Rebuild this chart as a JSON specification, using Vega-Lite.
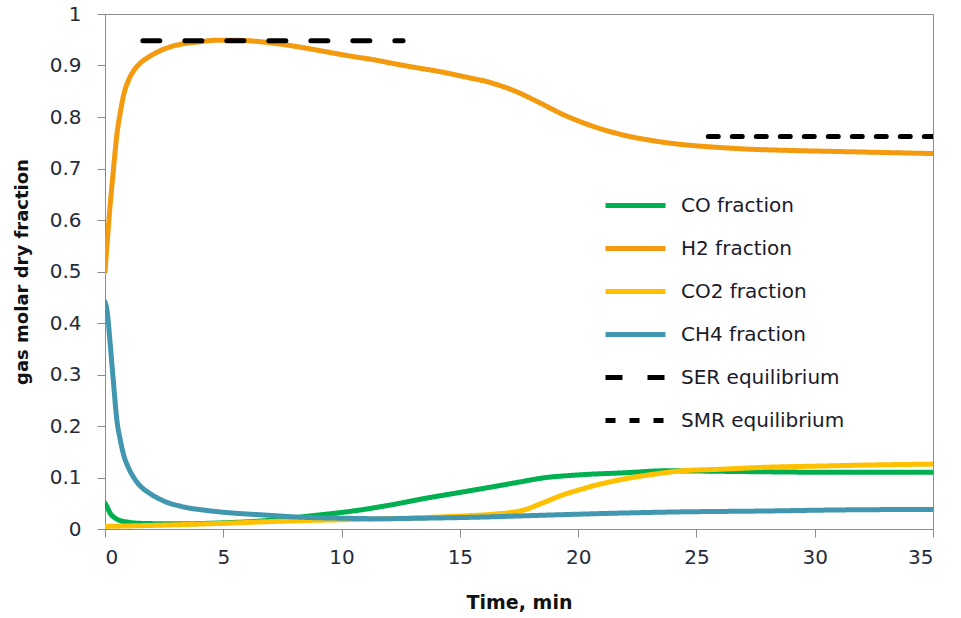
{
  "$schema": "https://vega.github.io/schema/vega-lite/v6.json",
  "width": 828,
  "height": 515,
  "autosize": {"type": "none"},
  "padding": {"left": 105, "top": 14, "right": 28, "bottom": 89},
  "background": "white",
  "config": {
    "view": {"stroke": "#8c8c8c", "strokeWidth": 1},
    "font": "DejaVu Sans"
  },
  "data": {"values": [
    {"t": 0, "v": 0.05, "s": "CO fraction"},
    {"t": 0.1, "v": 0.042, "s": "CO fraction"},
    {"t": 0.2, "v": 0.032, "s": "CO fraction"},
    {"t": 0.4, "v": 0.022, "s": "CO fraction"},
    {"t": 0.6, "v": 0.017, "s": "CO fraction"},
    {"t": 1.0, "v": 0.013, "s": "CO fraction"},
    {"t": 1.5, "v": 0.011, "s": "CO fraction"},
    {"t": 3, "v": 0.01, "s": "CO fraction"},
    {"t": 5, "v": 0.012, "s": "CO fraction"},
    {"t": 7, "v": 0.017, "s": "CO fraction"},
    {"t": 8.8, "v": 0.026, "s": "CO fraction"},
    {"t": 10.5, "v": 0.035, "s": "CO fraction"},
    {"t": 12, "v": 0.046, "s": "CO fraction"},
    {"t": 13.6, "v": 0.06, "s": "CO fraction"},
    {"t": 15, "v": 0.071, "s": "CO fraction"},
    {"t": 16.4, "v": 0.082, "s": "CO fraction"},
    {"t": 17.5, "v": 0.091, "s": "CO fraction"},
    {"t": 18.5, "v": 0.099, "s": "CO fraction"},
    {"t": 20, "v": 0.105, "s": "CO fraction"},
    {"t": 21.9, "v": 0.109, "s": "CO fraction"},
    {"t": 23.7, "v": 0.113, "s": "CO fraction"},
    {"t": 26, "v": 0.112, "s": "CO fraction"},
    {"t": 28, "v": 0.111, "s": "CO fraction"},
    {"t": 31, "v": 0.11, "s": "CO fraction"},
    {"t": 35, "v": 0.11, "s": "CO fraction"},

    {"t": 0, "v": 0.5, "s": "H2 fraction"},
    {"t": 0.1, "v": 0.56, "s": "H2 fraction"},
    {"t": 0.2, "v": 0.62, "s": "H2 fraction"},
    {"t": 0.3, "v": 0.67, "s": "H2 fraction"},
    {"t": 0.4, "v": 0.72, "s": "H2 fraction"},
    {"t": 0.5, "v": 0.765, "s": "H2 fraction"},
    {"t": 0.65, "v": 0.81, "s": "H2 fraction"},
    {"t": 0.8, "v": 0.845, "s": "H2 fraction"},
    {"t": 1.0, "v": 0.872, "s": "H2 fraction"},
    {"t": 1.2, "v": 0.889, "s": "H2 fraction"},
    {"t": 1.5, "v": 0.905, "s": "H2 fraction"},
    {"t": 1.9, "v": 0.918, "s": "H2 fraction"},
    {"t": 2.5, "v": 0.932, "s": "H2 fraction"},
    {"t": 3.3, "v": 0.942, "s": "H2 fraction"},
    {"t": 4.0, "v": 0.946, "s": "H2 fraction"},
    {"t": 4.7, "v": 0.949, "s": "H2 fraction"},
    {"t": 5.5, "v": 0.949, "s": "H2 fraction"},
    {"t": 6.1, "v": 0.948, "s": "H2 fraction"},
    {"t": 7.0, "v": 0.944, "s": "H2 fraction"},
    {"t": 8.2, "v": 0.936, "s": "H2 fraction"},
    {"t": 9.3, "v": 0.927, "s": "H2 fraction"},
    {"t": 10.4, "v": 0.918, "s": "H2 fraction"},
    {"t": 11.5, "v": 0.91, "s": "H2 fraction"},
    {"t": 12.05, "v": 0.905, "s": "H2 fraction"},
    {"t": 13, "v": 0.897, "s": "H2 fraction"},
    {"t": 14.16, "v": 0.888, "s": "H2 fraction"},
    {"t": 15.2, "v": 0.878, "s": "H2 fraction"},
    {"t": 16.27, "v": 0.867, "s": "H2 fraction"},
    {"t": 17.4, "v": 0.849, "s": "H2 fraction"},
    {"t": 18.4, "v": 0.827, "s": "H2 fraction"},
    {"t": 19.4, "v": 0.804, "s": "H2 fraction"},
    {"t": 20.5, "v": 0.784, "s": "H2 fraction"},
    {"t": 21.9, "v": 0.765, "s": "H2 fraction"},
    {"t": 23.3, "v": 0.753, "s": "H2 fraction"},
    {"t": 24.5, "v": 0.746, "s": "H2 fraction"},
    {"t": 25.6, "v": 0.742, "s": "H2 fraction"},
    {"t": 27, "v": 0.738, "s": "H2 fraction"},
    {"t": 29, "v": 0.735, "s": "H2 fraction"},
    {"t": 31, "v": 0.733, "s": "H2 fraction"},
    {"t": 33, "v": 0.731, "s": "H2 fraction"},
    {"t": 35, "v": 0.729, "s": "H2 fraction"},

    {"t": 0, "v": 0.005, "s": "CO2 fraction"},
    {"t": 2, "v": 0.007, "s": "CO2 fraction"},
    {"t": 5, "v": 0.011, "s": "CO2 fraction"},
    {"t": 7.4, "v": 0.015, "s": "CO2 fraction"},
    {"t": 10, "v": 0.018, "s": "CO2 fraction"},
    {"t": 12, "v": 0.02, "s": "CO2 fraction"},
    {"t": 15, "v": 0.025, "s": "CO2 fraction"},
    {"t": 16.5, "v": 0.029, "s": "CO2 fraction"},
    {"t": 17.3, "v": 0.033, "s": "CO2 fraction"},
    {"t": 17.8, "v": 0.038, "s": "CO2 fraction"},
    {"t": 18.3, "v": 0.047, "s": "CO2 fraction"},
    {"t": 18.9, "v": 0.058, "s": "CO2 fraction"},
    {"t": 19.4, "v": 0.067, "s": "CO2 fraction"},
    {"t": 19.9, "v": 0.074, "s": "CO2 fraction"},
    {"t": 20.5, "v": 0.082, "s": "CO2 fraction"},
    {"t": 21.3, "v": 0.091, "s": "CO2 fraction"},
    {"t": 22.3, "v": 0.1, "s": "CO2 fraction"},
    {"t": 23.3, "v": 0.107, "s": "CO2 fraction"},
    {"t": 24.4, "v": 0.113, "s": "CO2 fraction"},
    {"t": 26, "v": 0.116, "s": "CO2 fraction"},
    {"t": 28, "v": 0.12, "s": "CO2 fraction"},
    {"t": 30, "v": 0.122, "s": "CO2 fraction"},
    {"t": 32, "v": 0.124, "s": "CO2 fraction"},
    {"t": 35, "v": 0.126, "s": "CO2 fraction"},

    {"t": 0, "v": 0.441, "s": "CH4 fraction"},
    {"t": 0.1, "v": 0.42, "s": "CH4 fraction"},
    {"t": 0.2, "v": 0.37, "s": "CH4 fraction"},
    {"t": 0.35, "v": 0.289, "s": "CH4 fraction"},
    {"t": 0.5, "v": 0.212, "s": "CH4 fraction"},
    {"t": 0.65, "v": 0.172, "s": "CH4 fraction"},
    {"t": 0.77, "v": 0.147, "s": "CH4 fraction"},
    {"t": 1.0, "v": 0.118, "s": "CH4 fraction"},
    {"t": 1.2, "v": 0.101, "s": "CH4 fraction"},
    {"t": 1.5, "v": 0.083, "s": "CH4 fraction"},
    {"t": 1.9, "v": 0.069, "s": "CH4 fraction"},
    {"t": 2.5, "v": 0.054, "s": "CH4 fraction"},
    {"t": 3.3, "v": 0.043, "s": "CH4 fraction"},
    {"t": 4.3, "v": 0.036, "s": "CH4 fraction"},
    {"t": 5.4, "v": 0.031, "s": "CH4 fraction"},
    {"t": 6.8, "v": 0.027, "s": "CH4 fraction"},
    {"t": 8.2, "v": 0.023, "s": "CH4 fraction"},
    {"t": 10, "v": 0.021, "s": "CH4 fraction"},
    {"t": 11.6, "v": 0.02, "s": "CH4 fraction"},
    {"t": 13.5, "v": 0.021, "s": "CH4 fraction"},
    {"t": 15.8, "v": 0.023, "s": "CH4 fraction"},
    {"t": 18, "v": 0.026, "s": "CH4 fraction"},
    {"t": 21, "v": 0.03, "s": "CH4 fraction"},
    {"t": 24, "v": 0.033, "s": "CH4 fraction"},
    {"t": 28, "v": 0.035, "s": "CH4 fraction"},
    {"t": 31, "v": 0.037, "s": "CH4 fraction"},
    {"t": 35, "v": 0.038, "s": "CH4 fraction"},

    {"t": 1.6, "v": 0.948, "s": "SER equilibrium"},
    {"t": 12.6, "v": 0.948, "s": "SER equilibrium"},
    {"t": 25.5, "v": 0.762, "s": "SMR equilibrium"},
    {"t": 35, "v": 0.762, "s": "SMR equilibrium"}
  ]},
  "mark": {"type": "line", "strokeWidth": 5, "strokeCap": "round", "interpolate": "monotone", "clip": true},
  "encoding": {
    "x": {
      "field": "t", "type": "quantitative",
      "scale": {"domain": [0, 35], "nice": false, "zero": false},
      "axis": {
        "title": "Time, min", "values": [0, 5, 10, 15, 20, 25, 30, 35],
        "grid": false, "domainColor": "#8c8c8c", "tickColor": "#8c8c8c", "tickSize": 8,
        "labelFontSize": 20, "labelColor": "#262b3a", "labelPadding": 10, "labelFont": "DejaVu Sans",
        "titleFontSize": 19, "titleFont": "DejaVu Sans", "titleFontWeight": "bold", "titleColor": "#111111", "titlePadding": 26
      }
    },
    "y": {
      "field": "v", "type": "quantitative",
      "scale": {"domain": [0, 1], "nice": false},
      "axis": {
        "title": "gas molar dry fraction", "values": [0, 0.1, 0.2, 0.3, 0.4, 0.5, 0.6, 0.7, 0.8, 0.9, 1], "format": "~g",
        "grid": false, "domainColor": "#8c8c8c", "tickColor": "#8c8c8c", "tickSize": 8,
        "labelFontSize": 20, "labelColor": "#262b3a", "labelPadding": 16, "labelFont": "DejaVu Sans",
        "titleFontSize": 18, "titleFont": "DejaVu Sans", "titleFontWeight": "bold", "titleColor": "#111111", "titlePadding": 18
      }
    },
    "color": {
      "field": "s", "type": "nominal",
      "scale": {
        "domain": ["CO fraction", "H2 fraction", "CO2 fraction", "CH4 fraction", "SER equilibrium", "SMR equilibrium"],
        "range": ["#00b050", "#f39a0f", "#ffc000", "#4197b0", "#000000", "#000000"]
      },
      "legend": {
        "title": null, "orient": "none", "legendX": 498, "legendY": 159, "padding": 0,
        "symbolType": "stroke", "symbolSize": 3600, "symbolStrokeWidth": 5,
        "labelFontSize": 20, "labelFont": "DejaVu Sans", "labelColor": "#1a1a2a", "labelOffset": 13,
        "labelLimit": 400, "rowPadding": 0
      }
    },
    "strokeDash": {
      "field": "s", "type": "nominal",
      "scale": {
        "domain": ["CO fraction", "H2 fraction", "CO2 fraction", "CH4 fraction", "SER equilibrium", "SMR equilibrium"],
        "range": [[1, 0], [1, 0], [1, 0], [1, 0], [17, 25], [10, 14]]
      },
      "legend": {
        "title": null, "orient": "none", "legendX": 498, "legendY": 159, "padding": 0,
        "symbolType": "stroke", "symbolSize": 3600, "symbolStrokeWidth": 5,
        "labelFontSize": 20, "labelFont": "DejaVu Sans", "labelColor": "#1a1a2a", "labelOffset": 13,
        "labelLimit": 400, "rowPadding": 0
      }
    }
  }
}
